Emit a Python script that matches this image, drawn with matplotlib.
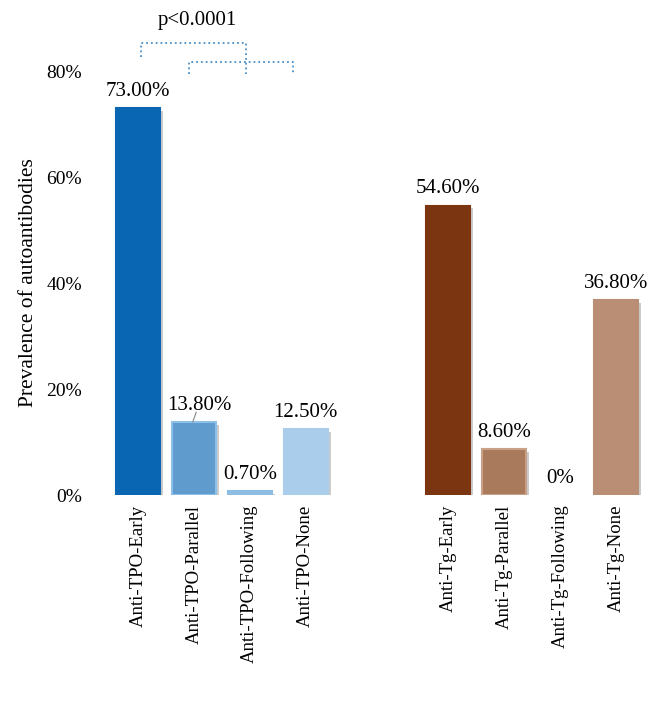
import numpy as np
import matplotlib.pyplot as plt
import matplotlib.patheffects as pe

plt.rcParams['font.family'] = ['Liberation Serif', 'DejaVu Serif']

categories = ['Anti-TPO-Early', 'Anti-TPO-Parallel', 'Anti-TPO-Following', 'Anti-TPO-None',
              'Anti-Tg-Early', 'Anti-Tg-Parallel', 'Anti-Tg-Following', 'Anti-Tg-None']
values = [73.0, 13.8, 0.7, 12.5, 54.6, 8.6, 0.0, 36.8]
labels = ['73.00%', '13.80%', '0.70%', '12.50%', '54.60%', '8.60%', '0%', '36.80%']
colors = ['#0866b3', '#5f9ccd', '#8dbde3', '#a9cdea',
          '#7b3510', '#a97a5c', '#c9a58f', '#b98e74']
edges = ['#0866b3', '#8dc0e8', '#8dbde3', '#a9cdea',
         '#7b3510', '#c9a088', '#c9a58f', '#b98e74']
x = np.array([0, 1, 2, 3, 5.55, 6.55, 7.55, 8.55])

fig = plt.figure(figsize=(6.6, 7.09), dpi=100)
ax = fig.add_axes([100 / 660, 214 / 709, 550 / 660, 424 / 709])

shadow = [pe.SimplePatchShadow(offset=(2, -2), shadow_rgbFace='#999999', alpha=0.5), pe.Normal()]
bars = ax.bar(x, values, width=0.79, color=colors, edgecolor=edges, linewidth=1.5)
for b, v in zip(bars, values):
    if v > 0:
        b.set_path_effects(shadow)
    else:
        b.set_linewidth(0)

for xi, v, lab in zip(x, values, labels):
    dx = 0.1 if lab == '13.80%' else 0
    ax.annotate(lab, (xi + dx, v), xytext=(0, 12), textcoords='offset points',
                ha='center', va='center', fontsize=15)
# leader line for 13.80%
ax.plot([x[1] - 0.02, x[1] + 0.04], [values[1], values[1] + 1.8], color='#888888', lw=0.8)

# significance brackets
bc = '#4a90c8'
ax.plot([x[0] + 0.05, x[0] + 0.05, x[2] - 0.07, x[2] - 0.07],
        [82.6, 85.3, 85.3, 79.4], ls=':', color=bc, lw=1.3, clip_on=False)
ax.plot([x[1] - 0.09, x[1] - 0.09, x[3] - 0.23, x[3] - 0.23],
        [79.4, 81.7, 81.7, 79.4], ls=':', color=bc, lw=1.3, clip_on=False)
ax.text(1.07, 89.6, 'p<0.0001', ha='center', va='center', fontsize=15)

ax.set_xlim(-0.68, 9.16)
ax.set_ylim(0, 80)
ax.set_yticks([0, 20, 40, 60, 80])
ax.set_yticklabels(['0%', '20%', '40%', '60%', '80%'])
ax.set_xticks(x)
ax.set_xticklabels(categories, rotation=90)
ax.tick_params(axis='both', length=0, labelsize=14)
ax.tick_params(axis='x', labelsize=13.5)
ax.tick_params(axis='y', pad=13)
ax.tick_params(axis='x', pad=7)
for s in ax.spines.values():
    s.set_visible(False)
ax.set_ylabel('Prevalence of autoantibodies', fontsize=15.5, labelpad=6)

fig.savefig('out.png', dpi=100)
